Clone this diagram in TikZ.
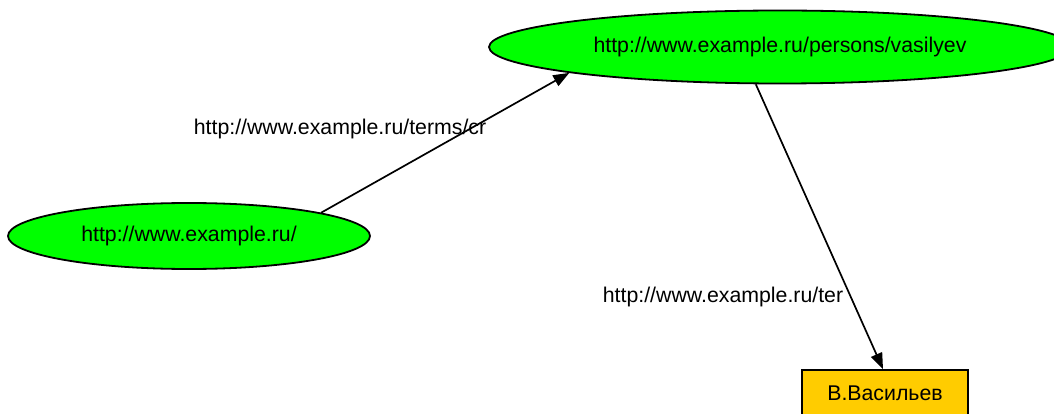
\documentclass[tikz,border=0pt]{standalone}
\usepackage{fontspec}
\setmainfont{Liberation Sans}
\usetikzlibrary{shapes.geometric,arrows.meta}
\definecolor{nodegreen}{HTML}{00FF00}
\definecolor{boxyellow}{HTML}{FFCC00}
\tikzset{
  resnode/.style={ellipse, draw=black, fill=nodegreen, line width=1.8pt, inner sep=0pt},
  litnode/.style={rectangle, draw=black, fill=boxyellow, line width=1.8pt, inner sep=0pt},
  edgelbl/.style={inner sep=0pt},
  rel/.style={line width=1.7pt, -{Triangle[length=16pt,width=12pt]}},
}
\begin{document}
\begin{tikzpicture}[x=1pt,y=-1pt,font=\fontsize{21.3}{25}\selectfont]
\useasboundingbox (0,0) rectangle (1054,414);
\clip (0,0) rectangle (1054,414);
\node[resnode, minimum width=582pt, minimum height=73pt] (p) at (780,47)
  {http://www.example.ru/persons/vasilyev\hspace{64pt}};
\node[resnode, minimum width=362pt, minimum height=66pt] (r) at (189,236)
  {http://www.example.ru/};
\node[litnode, minimum width=166pt, minimum height=46pt] (v) at (885,393)
  {В.Васильев};
\node[edgelbl] (l1) at (340,129) {http://www.example.ru/terms/cr};
\node[edgelbl] (l2) at (723,297) {http://www.example.ru/ter};
\draw[rel] (r.10) -- (p.187);
\draw[rel] (p.237) -- ([xshift=-2pt]v.north);
\end{tikzpicture}
\end{document}
